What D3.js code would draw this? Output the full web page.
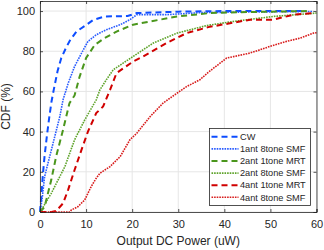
<!DOCTYPE html>
<html>
<head>
<meta charset="utf-8">
<script src="https://cdn.jsdelivr.net/npm/d3@7"></script>
<style>
  body { margin: 0; background: #fff; }
  text { font-family: "Liberation Sans", Arial, sans-serif; fill: #262626; }
</style>
</head>
<body>
<div class="d3-chart"></div>
<script>
// series, [power uW, CDF %]
const cw = [[0,0],[0.3,8],[0.6,18],[1,28],[1.5,38],[2,47],[2.5,55],[3,61],[3.8,70],[4.6,76.5],[5.5,81],[6.4,85],[7.9,89.8],[10,93],[11.5,95.5],[14,97.3],[19,97.5],[21,99],[25,99.3],[30,99.7],[40,100],[50,100],[57,100]];
const ant1Tone8Smf = [[0,0],[0.43,6],[1,17.6],[2.1,27.6],[3.2,37.5],[4.3,47.5],[5,55.8],[6.1,64],[7.5,72.4],[9,79],[10.4,84.9],[12.2,88.2],[14.4,90.7],[17.4,93.2],[19.5,95.7],[21,98.2],[27.5,98.2],[34.7,99.2],[45,99.5],[59.3,99.8]];
const ant2Tone1Mrt = [[0,0],[1,2.6],[2.45,16],[3.5,27.6],[5,40.9],[6.4,54.2],[7.5,58],[8.6,67.4],[10,76.6],[11.9,83.2],[14,86.5],[16.6,89.8],[20.2,93.2],[23.9,94.8],[29.7,97.3],[36.9,99],[45,99.5],[57.9,100]];
const ant2Tone8Smf = [[0,0],[0.3,1],[2.45,9.3],[5.4,22.6],[7.5,35.9],[9.7,45.8],[12.2,55.8],[13,60.8],[14.4,65.8],[15.9,70.8],[20.2,77.4],[24.6,84.1],[29.7,89],[36.2,92.8],[41.9,94.8],[50.6,97.3],[60,99]];
const ant4Tone1Mrt = [[0,0],[2.5,0],[3.5,0.5],[5,4.3],[6.1,11],[7.5,20.9],[9,30.9],[10.4,40],[12.2,49.2],[13.7,52.5],[15.2,60.8],[16.6,69.1],[20.2,74.9],[22.4,77.4],[27.5,84.1],[31.8,89],[36.5,92],[45.6,95.7],[50.6,95.7],[55,98.2],[59.3,99]];
const ant4Tone8Smf = [[0,0],[6.5,0],[6.8,1],[8.2,2.6],[9.7,6],[11.1,12.6],[12.2,16.8],[13,19.3],[15.2,22.6],[17.4,27.6],[19.5,35.9],[21,39.2],[23.9,47.5],[26.7,54.2],[29.7,59.1],[31.8,62.4],[34.7,65.8],[36.5,69.5],[40.5,76.6],[45.6,79.1],[49.9,82.4],[53.5,84.9],[56.4,86.5],[59.3,89],[60,89.2]];

const seriesNames = ["CW", "1ant 8tone SMF", "2ant 1tone MRT", "2ant 8tone SMF", "4ant 1tone MRT", "4ant 8tone SMF"];
const seriesData = [cw, ant1Tone8Smf, ant2Tone1Mrt, ant2Tone8Smf, ant4Tone1Mrt, ant4Tone8Smf];
const seriesColors = ["#0d4dff", "#2a5cff", "#4a961c", "#5ea32a", "#d00000", "#d81c1c"];
const seriesDash = ["6,4", "1.6,1", "6,4", "1.6,1", "6,4", "1.6,1"];
const seriesWidth = [2, 1.6, 2, 1.6, 2, 1.6];

const xTicks = [0, 10, 20, 30, 40, 50, 60];
const yTicks = [0, 20, 40, 60, 80, 100];

const W = 324, H = 250;
const margin = {top: 1, right: 7.5, bottom: 38, left: 40};

const svg = d3.select(".d3-chart")
  .append("svg")
  .attr("width", W)
  .attr("height", H);

const x = d3.scaleLinear().domain([0, 60]).range([margin.left, W - margin.right]);
const y = d3.scaleLinear().domain([0, 105]).range([H - margin.bottom, margin.top]);

// grid
svg.append("g").selectAll("line").data(xTicks).join("line")
  .attr("x1", d => x(d)).attr("x2", d => x(d))
  .attr("y1", y(0)).attr("y2", y(105))
  .attr("stroke", "#e6e6e6").attr("stroke-width", 1);
svg.append("g").selectAll("line").data(yTicks).join("line")
  .attr("x1", x(0)).attr("x2", x(60))
  .attr("y1", d => y(d)).attr("y2", d => y(d))
  .attr("stroke", "#e6e6e6").attr("stroke-width", 1);

// curves
const line = d3.line().x(d => x(d[0])).y(d => y(d[1]));
svg.append("g").selectAll("path").data(seriesData).join("path")
  .attr("d", line)
  .attr("fill", "none")
  .attr("stroke", (d, i) => seriesColors[i])
  .attr("stroke-width", (d, i) => seriesWidth[i])
  .attr("stroke-dasharray", (d, i) => seriesDash[i]);

// axes, ticks inward
svg.append("g")
  .attr("transform", `translate(0,${y(0)})`)
  .call(d3.axisBottom(x).tickValues(xTicks).tickSize(-3).tickPadding(8));
svg.append("g")
  .attr("transform", `translate(${x(0)},0)`)
  .call(d3.axisLeft(y).tickValues(yTicks).tickSize(-3).tickPadding(5));
svg.append("g")
  .attr("transform", `translate(0,${y(105)})`)
  .call(d3.axisTop(x).tickValues(xTicks).tickSize(-3).tickFormat(""));
svg.append("g")
  .attr("transform", `translate(${x(60)},0)`)
  .call(d3.axisRight(y).tickValues(yTicks).tickSize(-3).tickFormat(""));

svg.selectAll(".domain, .tick line").attr("stroke", "#262626").attr("stroke-width", 0.8);
svg.selectAll(".tick text").attr("font-size", 11).attr("fill", "#262626")
  .attr("font-family", "Liberation Sans, Arial, sans-serif");

svg.append("text")
  .attr("x", (x(0) + x(60)) / 2).attr("y", 245)
  .attr("text-anchor", "middle").attr("font-size", 12)
  .text("Output DC Power (uW)");
svg.append("text")
  .attr("transform", `translate(10,${(y(0) + y(105)) / 2}) rotate(-90)`)
  .attr("text-anchor", "middle").attr("font-size", 12)
  .text("CDF (%)");

// legend
const lg = svg.append("g").attr("transform", "translate(209.5,128.5)");
lg.append("rect").attr("width", 101).attr("height", 77)
  .attr("fill", "#fff").attr("stroke", "#262626").attr("stroke-width", 0.8);
const item = lg.selectAll("g").data(seriesNames).join("g")
  .attr("transform", (d, i) => `translate(0,${8.3 + i * 12.1})`);
item.append("line")
  .attr("x1", 2).attr("x2", 29)
  .attr("stroke", (d, i) => seriesColors[i])
  .attr("stroke-width", (d, i) => seriesWidth[i])
  .attr("stroke-dasharray", (d, i) => seriesDash[i]);
item.append("text")
  .attr("x", 30.5).attr("dy", "0.35em")
  .attr("font-size", 9.2)
  .text(d => d);
</script>
</body>
</html>
